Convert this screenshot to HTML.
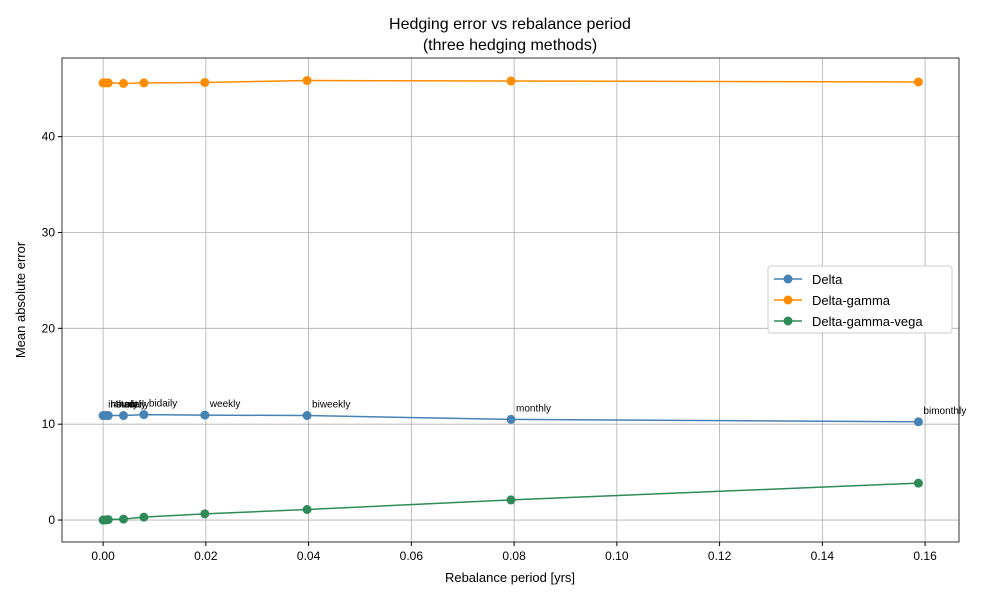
<!DOCTYPE html>
<html><head><meta charset="utf-8"><style>body{margin:0;background:#fff}svg{font-family:"Liberation Sans","DejaVu Sans",sans-serif}</style></head>
<body>
<svg id="chart" width="1000" height="600"></svg>
<script>
const periods=[0,0.0005,0.001,0.00397,0.00794,0.0198,0.0397,0.0794,0.1587];
const labels=["instant","hourly","4hourly","daily","bidaily","weekly","biweekly","monthly","bimonthly"];
const deltaVals=[10.9,10.9,10.9,10.9,11.0,10.95,10.9,10.5,10.25];
const dgVals=[45.6,45.6,45.6,45.55,45.6,45.65,45.85,45.8,45.7];
const dgvVals=[0,0.02,0.05,0.1,0.3,0.65,1.1,2.1,3.85];
const xTicks=[0,0.02,0.04,0.06,0.08,0.10,0.12,0.14,0.16];
const yTicks=[0,10,20,30,40];
const L=62,R=959,T=58,B=542;
const xMin=-0.008,xMax=0.1666,yMin=-2.29,yMax=48.2;
const sx=v=>L+(v-xMin)/(xMax-xMin)*(R-L);
const sy=v=>B-(v-yMin)/(yMax-yMin)*(B-T);
const svg=document.getElementById('chart');const NS='http://www.w3.org/2000/svg';
function mk(t,a,p){const e=document.createElementNS(NS,t);for(const k in a)e.setAttribute(k,a[k]);(p||svg).appendChild(e);return e;}
xTicks.forEach(v=>{const x=sx(v);
const g=mk('line',{x1:x,x2:x,y1:T,y2:B,stroke:'#b0b0b0','stroke-width':0.8});

mk('line',{x1:x,x2:x,y1:B,y2:B+4,stroke:'#000'});
const t=mk('text',{x:x,y:B+18,'text-anchor':'middle','font-size':12});t.textContent=v.toFixed(2);
});
yTicks.forEach(v=>{const y=sy(v);
const g=mk('line',{x1:L,x2:R,y1:y,y2:y,stroke:'#b0b0b0','stroke-width':0.8});

mk('line',{x1:L-4,x2:L,y1:y,y2:y,stroke:'#000'});
const t=mk('text',{x:L-7,y:y+4,'text-anchor':'end','font-size':12});t.textContent=v;
});
const fr=mk('rect',{x:L,y:T,width:R-L,height:B-T,fill:'none',stroke:'#000','stroke-width':0.8});

const series=[["delta",deltaVals,"#4682b4"],["delta-gamma",dgVals,"#ff8c00"],["delta-gamma-vega",dgvVals,"#2e8b57"]];
series.forEach(([n,vals,c])=>{
const p=mk('polyline',{points:periods.map((x,i)=>sx(x)+','+sy(vals[i])).join(' '),fill:'none',stroke:c,'stroke-width':1.5});

periods.forEach((x,i)=>{const d=mk('circle',{cx:sx(x),cy:sy(vals[i]),r:4.5,fill:c});
});});
periods.forEach((x,i)=>{const t=mk('text',{x:sx(x)+5,y:sy(deltaVals[i])-8,'font-size':10});t.textContent=labels[i];
});
const tt=mk('text',{x:510,y:29,'text-anchor':'middle','font-size':16});tt.textContent='Hedging error vs rebalance period';

const st=mk('text',{x:510,y:50,'text-anchor':'middle','font-size':16});st.textContent='(three hedging methods)';

const xl=mk('text',{x:510,y:582,'text-anchor':'middle','font-size':13});xl.textContent='Rebalance period [yrs]';

const yl=mk('text',{x:25,y:300,'text-anchor':'middle','font-size':13,transform:'rotate(-90 25 300)'});yl.textContent='Mean absolute error';

const lg=mk('g',{});
mk('rect',{x:768,y:266,width:184,height:67,fill:'#fff',stroke:'#ccc',rx:3},lg);
series.forEach(([n,v,c],i)=>{const y=279+i*21;
mk('line',{x1:774,x2:802,y1:y,y2:y,stroke:c,'stroke-width':1.5},lg);
mk('circle',{cx:788,cy:y,r:4.5,fill:c},lg);
const t=mk('text',{x:812,y:y+5,'font-size':13},lg);t.textContent=["Delta","Delta-gamma","Delta-gamma-vega"][i];
});
</script>
</body></html>
